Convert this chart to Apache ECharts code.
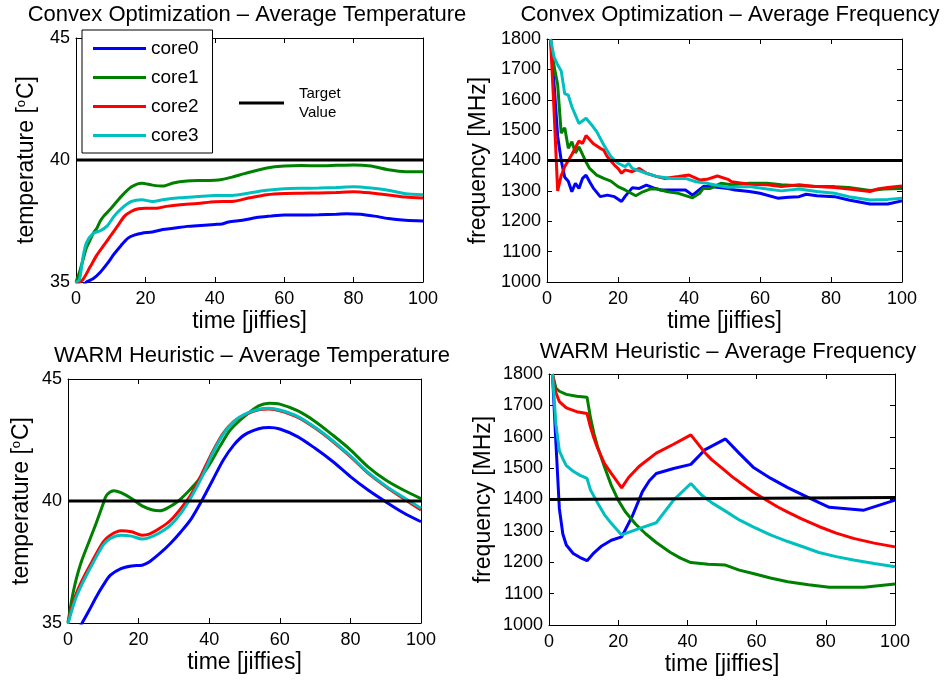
<!DOCTYPE html>
<html>
<head>
<meta charset="utf-8">
<script src="https://cdn.jsdelivr.net/npm/echarts@6/dist/echarts.min.js"></script>
<style>
  html, body { margin: 0; padding: 0; background: #fff; }
  #chart { width: 948px; height: 681px; }
</style>
</head>
<body>
<div id="chart"></div>
<script>
// ---- labels ----
const coreNames = ['core0', 'core1', 'core2', 'core3'];
const coreColors = ['#0000ff', '#008000', '#ff0000', '#00bfbf'];
const panelTitles = [
  'Convex Optimization \u2013 Average Temperature',
  'Convex Optimization \u2013 Average Frequency',
  'WARM Heuristic \u2013 Average Temperature',
  'WARM Heuristic \u2013 Average Frequency'
];
const timeLabel = 'time [jiffies]';
const tempLabel = 'temperature [{sup|o}C]';
const freqLabel = 'frequency [MHz]';
const targetName = 'Target Value';

// ---- axis ranges ----
const timeTicks = [0, 100, 20];
const tempTicks = [35, 45, 5];
const freqTicks = [1000, 1800, 100];

// ---- Convex optimization: temperature [time, degC] ----
const convexTempCore0 = [[0,34.5],[2,34.85],[3,35.0],[5,35.14],[7,35.4],[9,35.75],[11,36.15],[13,36.5],[15,36.8],[17,36.93],[19,37.0],[22,37.05],[25,37.15],[28,37.2],[32,37.28],[36,37.32],[40,37.36],[42,37.38],[44,37.46],[48,37.53],[52,37.64],[56,37.7],[60,37.75],[65,37.75],[70,37.76],[75,37.78],[78,37.8],[82,37.78],[86,37.7],[90,37.6],[95,37.53],[100,37.5]];
const convexTempCore1 = [[0,35.0],[1,35.4],[2,35.9],[3,36.4],[4,36.7],[5,37.0],[6,37.2],[7,37.5],[8,37.7],[10,38.0],[13,38.5],[16,38.9],[19,39.05],[22,38.97],[25,38.93],[28,39.06],[32,39.14],[36,39.16],[40,39.17],[42,39.2],[45,39.3],[48,39.42],[50,39.5],[55,39.67],[60,39.75],[65,39.77],[70,39.76],[75,39.78],[80,39.8],[85,39.75],[90,39.6],[95,39.52],[100,39.52]];
const convexTempCore2 = [[0,34.9],[1,35.0],[2,35.1],[4,35.6],[6,36.1],[8,36.5],[10,36.9],[12,37.3],[14,37.7],[16,37.9],[18,38.0],[20,38.02],[23,38.02],[26,38.1],[30,38.17],[35,38.22],[40,38.29],[45,38.3],[50,38.45],[55,38.58],[60,38.63],[65,38.64],[70,38.65],[75,38.67],[80,38.7],[85,38.65],[90,38.57],[95,38.48],[100,38.44]];
const convexTempCore3 = [[0,35.0],[1,35.1],[2,36.0],[3,36.6],[5,37.0],[7,37.1],[9,37.3],[11,37.7],[13,38.0],[16,38.3],[19,38.37],[22,38.3],[25,38.37],[30,38.45],[35,38.5],[40,38.55],[45,38.55],[50,38.65],[55,38.76],[60,38.82],[65,38.84],[70,38.85],[75,38.87],[80,38.9],[85,38.85],[90,38.76],[95,38.62],[100,38.58]];
const convexTempTarget = [[0,40],[100,40]];

// ---- Convex optimization: frequency [time, MHz] ----
const convexFreqCore0 = [[1,1800],[2,1650],[3,1480],[4,1400],[5,1345],[6,1332],[7,1297],[8,1325],[9,1308],[10,1341],[11,1352],[12,1330],[13,1310],[15,1281],[17,1286],[19,1281],[21,1265],[22,1282],[24,1310],[26,1308],[28,1319],[30,1310],[32,1303],[35,1303],[39,1303],[41,1286],[44,1314],[46,1314],[51,1308],[53,1303],[57,1298],[60,1292],[65,1276],[68,1279],[71,1281],[73,1289],[76,1284],[81,1281],[85,1270],[91,1257],[96,1257],[100,1267]];
const convexFreqCore1 = [[1,1800],[2,1710],[3,1650],[4,1490],[5,1508],[6,1440],[7,1462],[8,1425],[9,1445],[10,1420],[11,1395],[12,1374],[14,1352],[16,1341],[18,1332],[20,1314],[22,1303],[25,1284],[27,1297],[29,1306],[31,1306],[34,1297],[37,1292],[41,1277],[43,1292],[44,1308],[46,1308],[49,1325],[52,1320],[57,1325],[62,1325],[66,1320],[71,1317],[76,1314],[81,1314],[85,1311],[91,1301],[95,1306],[100,1308]];
const convexFreqCore2 = [[1,1800],[2,1560],[3,1300],[4,1350],[5,1380],[6,1400],[7,1420],[9,1464],[10,1456],[11,1482],[13,1456],[15,1440],[16,1434],[17,1412],[19,1385],[20,1374],[21,1358],[22,1369],[24,1363],[26,1374],[28,1358],[31,1347],[33,1341],[37,1347],[40,1352],[43,1336],[45,1338],[48,1349],[51,1338],[52,1330],[57,1322],[62,1320],[66,1314],[71,1320],[76,1314],[81,1311],[85,1306],[91,1298],[93,1306],[96,1311],[100,1316]];
const convexFreqCore3 = [[1,1800],[2,1740],[3,1715],[4,1695],[5,1620],[6,1615],[7,1577],[9,1522],[11,1539],[13,1511],[14,1495],[16,1451],[18,1413],[20,1391],[22,1380],[23,1391],[24,1374],[28,1358],[31,1347],[35,1341],[39,1341],[42,1330],[45,1325],[48,1318],[51,1312],[57,1314],[62,1306],[66,1300],[71,1306],[76,1298],[81,1292],[85,1281],[91,1270],[96,1272],[100,1276]];
const convexFreqTarget = [[0,1400],[100,1400]];

// ---- WARM heuristic: temperature [time, degC] ----
const warmTempCore0 = [[0,34.0],[2,34.5],[4,35.0],[6,35.52],[8,36.07],[10,36.55],[12,36.96],[15,37.23],[18,37.34],[21,37.37],[23,37.5],[26,37.85],[29,38.26],[32,38.74],[35,39.29],[38,40.04],[41,40.86],[44,41.68],[47,42.3],[50,42.71],[54,42.96],[57,43.01],[60,42.95],[65,42.64],[70,42.16],[75,41.62],[80,41.0],[85,40.45],[90,39.97],[95,39.52],[100,39.15]];
const warmTempCore1 = [[0,35.0],[1,35.9],[2,36.6],[3,37.15],[4,37.6],[6,38.35],[8,39.1],[10,39.9],[11,40.25],[13,40.42],[15,40.34],[18,40.1],[21,39.8],[24,39.63],[26,39.6],[28,39.7],[31,39.97],[34,40.38],[37,40.86],[40,41.48],[43,42.23],[46,42.92],[50,43.47],[54,43.9],[57,44.01],[60,43.97],[65,43.7],[70,43.26],[75,42.7],[80,42.1],[85,41.4],[90,40.86],[95,40.45],[100,40.1]];
const warmTempCore2 = [[0,35.04],[2,36.07],[4,36.75],[7,37.57],[10,38.33],[12,38.6],[15,38.78],[18,38.74],[21,38.6],[23,38.64],[26,38.88],[29,39.2],[32,39.7],[35,40.3],[38,41.14],[41,42.03],[44,42.78],[47,43.26],[50,43.53],[54,43.74],[57,43.77],[60,43.7],[65,43.44],[70,42.99],[75,42.44],[80,41.82],[85,41.14],[90,40.59],[95,40.1],[100,39.63]];
const warmTempCore3 = [[0,34.97],[2,35.93],[4,36.6],[7,37.44],[10,38.2],[12,38.47],[15,38.6],[18,38.56],[21,38.44],[23,38.5],[26,38.7],[29,39.0],[32,39.5],[35,40.18],[38,41.0],[41,41.96],[44,42.74],[47,43.26],[50,43.55],[54,43.76],[57,43.8],[60,43.73],[65,43.47],[70,43.02],[75,42.47],[80,41.85],[85,41.17],[90,40.62],[95,40.15],[100,39.7]];
const warmTempTarget = [[0,40],[100,40]];

// ---- WARM heuristic: frequency [time, MHz] ----
const warmFreqCore0 = [[1,1800],[2,1580],[3,1370],[4,1290],[5,1255],[7,1228],[9,1215],[11,1205],[13,1230],[15,1250],[18,1270],[21,1281],[24,1345],[27,1425],[29,1460],[31,1483],[36,1499],[41,1512],[45,1558],[51,1593],[55,1547],[59,1503],[64,1468],[69,1438],[75,1406],[81,1375],[91,1366],[100,1398]];
const warmFreqCore1 = [[1,1800],[2,1755],[3,1745],[5,1735],[8,1729],[11,1726],[12,1660],[13,1610],[14,1570],[16,1505],[18,1445],[20,1398],[22,1362],[25,1322],[28,1290],[31,1263],[35,1232],[38,1213],[41,1199],[46,1194],[51,1191],[55,1175],[59,1164],[64,1150],[69,1138],[75,1128],[81,1120],[91,1120],[100,1131]];
const warmFreqCore2 = [[1,1800],[2,1740],[3,1712],[5,1692],[8,1680],[11,1674],[12,1630],[13,1595],[14,1565],[16,1515],[18,1483],[21,1437],[23,1470],[26,1505],[31,1548],[36,1576],[41,1606],[43,1578],[45,1550],[47,1527],[50,1500],[53,1472],[56,1448],[59,1424],[63,1397],[66,1377],[69,1360],[73,1338],[78,1314],[83,1293],[88,1276],[94,1261],[100,1249]];
const warmFreqCore3 = [[1,1800],[2,1640],[3,1555],[4,1530],[5,1508],[7,1490],[9,1477],[11,1467],[12,1430],[14,1390],[16,1352],[18,1324],[21,1287],[26,1307],[31,1326],[36,1398],[41,1451],[44,1415],[47,1390],[51,1363],[55,1335],[59,1313],[64,1287],[69,1266],[74,1247],[78,1231],[83,1218],[88,1207],[94,1196],[100,1186]];
const warmFreqTarget = [[0,1400],[100,1406]];

// ---- chart assembly ----
const FONT = '"Liberation Sans", Arial, Helvetica, sans-serif';
const panels = [
  { rect: { left: 76, top: 38, width: 347, height: 244 }, yTicks: tempTicks, yName: tempLabel, yGap: 38,
    cores: [convexTempCore0, convexTempCore1, convexTempCore2, convexTempCore3], target: convexTempTarget, smooth: 0.25,
    title: panelTitles[0], titleX: 242, titleY: -1 },
  { rect: { left: 547, top: 39, width: 355, height: 243 }, yTicks: freqTicks, yName: freqLabel, yGap: 57,
    cores: [convexFreqCore0, convexFreqCore1, convexFreqCore2, convexFreqCore3], target: convexFreqTarget, smooth: false,
    title: panelTitles[1], titleX: 725, titleY: -1 },
  { rect: { left: 68, top: 379, width: 353, height: 244 }, yTicks: tempTicks, yName: tempLabel, yGap: 35,
    cores: [warmTempCore0, warmTempCore1, warmTempCore2, warmTempCore3], target: warmTempTarget, smooth: 0.3,
    title: panelTitles[2], titleX: 247, titleY: 340 },
  { rect: { left: 549, top: 374, width: 346, height: 251 }, yTicks: freqTicks, yName: freqLabel, yGap: 54,
    cores: [warmFreqCore0, warmFreqCore1, warmFreqCore2, warmFreqCore3], target: warmFreqTarget, smooth: false,
    title: panelTitles[3], titleX: 723, titleY: 336 }
];

const axisLine = { show: true, onZero: false, lineStyle: { color: '#000', width: 1 } };
const axisTick = { show: true, inside: true, length: 5, lineStyle: { color: '#000', width: 1 } };
const labelStyle = { color: '#000', fontSize: 18, fontFamily: FONT, formatter: v => String(v) };
const nameStyle = {
  color: '#000', fontSize: 23, fontFamily: FONT,
  rich: { sup: { fontSize: 13, fontFamily: FONT, color: '#000', verticalAlign: 'top', lineHeight: 13, padding: [0, 1, 0, 0] } }
};

const grid = [], xAxis = [], yAxis = [], series = [], title = [];
panels.forEach((p, i) => {
  grid.push(Object.assign({ containLabel: false }, p.rect));
  title.push({ text: p.title, left: p.titleX, top: p.titleY, textAlign: 'center',
    textStyle: { color: '#000', fontSize: 22, fontWeight: 'normal', fontFamily: FONT } });
  const xb = xAxis.length;
  xAxis.push({ type: 'value', gridIndex: i, position: 'bottom', min: timeTicks[0], max: timeTicks[1], interval: timeTicks[2],
    axisLine, axisTick, splitLine: { show: false }, axisLabel: Object.assign({ margin: 8 }, labelStyle),
    name: timeLabel, nameLocation: 'middle', nameGap: 28, nameTextStyle: nameStyle });
  xAxis.push({ type: 'value', gridIndex: i, position: 'top', min: timeTicks[0], max: timeTicks[1], interval: timeTicks[2],
    axisLine, axisTick, splitLine: { show: false }, axisLabel: { show: false } });
  const yb = yAxis.length;
  yAxis.push({ type: 'value', gridIndex: i, position: 'left', min: p.yTicks[0], max: p.yTicks[1], interval: p.yTicks[2],
    axisLine, axisTick, splitLine: { show: false }, axisLabel: Object.assign({ margin: 6 }, labelStyle),
    name: p.yName, nameLocation: 'middle', nameGap: p.yGap, nameTextStyle: nameStyle });
  yAxis.push({ type: 'value', gridIndex: i, position: 'right', min: p.yTicks[0], max: p.yTicks[1], interval: p.yTicks[2],
    axisLine, axisTick, splitLine: { show: false }, axisLabel: { show: false } });
  p.cores.forEach((d, c) => {
    series.push({ type: 'line', name: coreNames[c], xAxisIndex: xb, yAxisIndex: yb, data: d,
      smooth: p.smooth, showSymbol: false, symbol: 'none', clip: true, color: coreColors[c],
      lineStyle: { width: 3, color: coreColors[c] } });
  });
  series.push({ type: 'line', name: targetName, xAxisIndex: xb, yAxisIndex: yb, data: p.target,
    showSymbol: false, symbol: 'none', clip: false, color: '#000', lineStyle: { width: 3, color: '#000' } });
});

const chart = echarts.init(document.getElementById('chart'), null, { renderer: 'canvas' });
chart.setOption({
  backgroundColor: '#fff',
  animation: false,
  title,
  grid, xAxis, yAxis, series,
  legend: [
    { data: coreNames, orient: 'vertical', left: 82, top: 30, selectedMode: false,
      icon: 'rect', itemWidth: 53, itemHeight: 3, itemGap: 10,
      backgroundColor: '#fff', borderColor: '#000', borderWidth: 1, borderRadius: 0,
      padding: [9, 14, 8, 11],
      textStyle: { color: '#000', fontSize: 19, lineHeight: 19, fontFamily: FONT } },
    { data: [targetName], orient: 'vertical', left: 239, top: 84, selectedMode: false,
      icon: 'rect', itemWidth: 45, itemHeight: 3, padding: 0,
      formatter: () => 'Target\nValue',
      textStyle: { color: '#000', fontSize: 15, lineHeight: 19, fontFamily: FONT, padding: [0, 0, 0, 10] } }
  ]
});
</script>
</body>
</html>
